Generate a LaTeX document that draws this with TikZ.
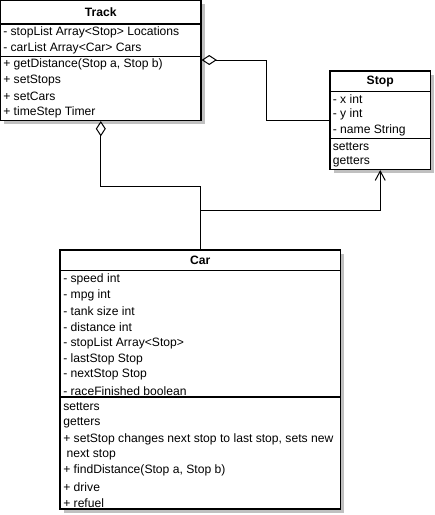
\documentclass[tikz,border=0pt]{standalone}
\usepackage{fontspec}
\setmainfont{Liberation Sans}
\usetikzlibrary{arrows.meta,fit}
\definecolor{shadowc}{RGB}{192,192,192}
\tikzset{
  box/.style={draw=black, fill=white, line width=0.85pt, inner sep=0pt},
  shd/.style={fill=shadowc},
  txt/.style={anchor=west, inner sep=0pt, font=\fontsize{9.1pt}{11pt}\selectfont},
  ttl/.style={inner sep=0pt, font=\fontsize{9.1pt}{11pt}\selectfont\bfseries},
  div/.style={line width=0.85pt},
  conn/.style={line width=0.75pt},
  agg/.style={conn, -{Diamond[open, length=11.5pt, width=7.5pt, line width=0.75pt]}},
  assoc/.style={conn, -{Straight Barb[length=7pt, width=7.5pt, line width=0.75pt]}}
}
\begin{document}
\begin{tikzpicture}[x=0.75pt, y=-0.75pt]
\useasboundingbox (0,0) rectangle (435,515);
% coordinates of class boxes
\coordinate (t1) at (0.6,0.6);
\coordinate (t2) at (201,120.5);
\coordinate (s1) at (330,71);
\coordinate (s2) at (430.5,169.5);
\coordinate (c1) at (60,250);
\coordinate (c2) at (340.5,509);
% shadows
\fill[shd] (4,4) rectangle (204.5,124);
\fill[shd] (333.5,74.5) rectangle (434,173);
\fill[shd] (63.5,253.5) rectangle (344,512.5);
% boxes
\node[box, fit=(t1)(t2)] (track) {};
\node[box, fit=(s1)(s2)] (stop) {};
\node[box, fit=(c1)(c2)] (car) {};
% Track
\node[ttl] (trackT) at (100.8,12.5) {Track};
\draw[div] (0.6,24) -- (201,24);
\draw[div] (0.6,56.5) -- (201,56.5);
\node[txt] (ta1) at (3,32.5) {- stopList Array<Stop> Locations};
\node[txt] (ta2) at (3,48.5) {- carList Array<Car> Cars};
\node[txt] (tm1) at (3,64.5) {+ getDistance(Stop a, Stop b)};
\node[txt] (tm2) at (3,80.5) {+ setStops};
\node[txt] (tm3) at (3,96.5) {+ setCars};
\node[txt] (tm4) at (3,112.5) {+ timeStep Timer};
% Stop
\node[ttl] (stopT) at (380.2,81.5) {Stop};
\draw[div] (330,91.7) -- (430.5,91.7);
\draw[div] (330,138.3) -- (430.5,138.3);
\node[txt] (sa1) at (332.5,99) {- x int};
\node[txt] (sa2) at (332.5,114.5) {- y int};
\node[txt] (sa3) at (332.5,130.5) {- name String};
\node[txt] (sm1) at (332.5,146.5) {setters};
\node[txt] (sm2) at (332.5,162.3) {getters};
% Car
\node[ttl] (carT) at (200.2,260.7) {Car};
\draw[div] (60,270.5) -- (340.5,270.5);
\draw[div] (60,397) -- (340.5,397);
\node[txt] (ca1) at (63,279) {- speed int};
\node[txt] (ca2) at (63,295) {- mpg int};
\node[txt] (ca3) at (63,311) {- tank size int};
\node[txt] (ca4) at (63,327) {- distance int};
\node[txt] (ca5) at (63,343) {- stopList Array<Stop>};
\node[txt] (ca6) at (63,359) {- lastStop Stop};
\node[txt] (ca7) at (63,375) {- nextStop Stop};
\node[txt] (ca8) at (63,390.7) {- raceFinished boolean};
\node[txt] (cm1) at (63,406.7) {setters};
\node[txt] (cm2) at (63,422.7) {getters};
\node[txt] (cm3) at (63,439) {+ setStop changes next stop to last stop, sets new};
\node[txt] (cm4) at (63,455) {\ next stop};
\node[txt] (cm5) at (63,470.7) {+ findDistance(Stop a, Stop b)};
\node[txt] (cm6) at (63,486.7) {+ drive};
\node[txt] (cm7) at (63,502.7) {+ refuel};
% connectors
\draw[agg] (stop.west) -- (266,120.25) -- (266,60) -- (track.east |- 0,60);
\draw[agg] (car.north) |- (track.south |- 0,186) -- (track.south);
\draw[assoc] (car.north |- 0,210) -| (stop.south);
\end{tikzpicture}
\end{document}
